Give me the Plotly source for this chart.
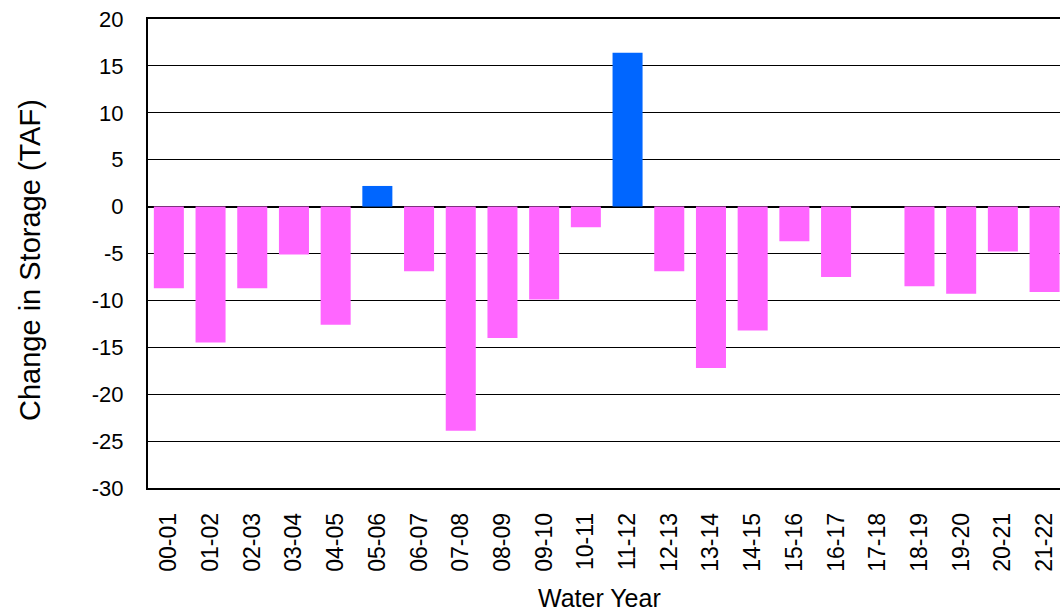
import plotly.graph_objects as go

years = ["00-01","01-02","02-03","03-04","04-05","05-06","06-07","07-08","08-09","09-10",
         "10-11","11-12","12-13","13-14","14-15","15-16","16-17","17-18","18-19","19-20",
         "20-21","21-22"]
change = [-8.7, -14.5, -8.7, -5.1, -12.6, 2.2, -6.9, -23.9, -14.0, -9.9,
          -2.2, 16.4, -6.9, -17.2, -13.2, -3.7, -7.5, 0.0, -8.5, -9.3,
          -4.8, -9.1]
ytickvals = [20, 15, 10, 5, 0, -5, -10, -15, -20, -25, -30]
yticktext = ["20", "15", "10", "5", "0", "-5", "-10", "-15", "-20", "-25", "-30"]
colors = ["#0066FF" if v > 0 else "#FF66FF" for v in change]

fig = go.Figure(go.Bar(x=list(range(len(years))), y=change, marker_color=colors,
                       marker_line_width=0))

L, R, T, B = 148, 0, 19, 127
W, H = 1060, 615
pw, ph = W - L - R, H - T - B

fig.update_layout(
    width=W, height=H,
    margin=dict(l=L, r=R, t=T, b=B, autoexpand=False),
    plot_bgcolor="white", paper_bgcolor="white",
    bargap=0.28, showlegend=False,
    font=dict(family="Liberation Sans, Arial", color="black"),
    annotations=[
        dict(text="Change in Storage (TAF)", textangle=-90, showarrow=False,
             xref="paper", yref="paper", x=(30 - L) / pw, y=(H - B - 260) / ph,
             xanchor="center", yanchor="middle", font=dict(size=29)),
        dict(text="Water Year", showarrow=False,
             xref="paper", yref="paper", x=(599 - L) / pw, y=(H - B - 598) / ph,
             xanchor="center", yanchor="middle", font=dict(size=25)),
    ],
)
fig.update_xaxes(
    tickmode="array", tickvals=list(range(len(years))), ticktext=years,
    range=[-0.5, 21.37], tickangle=-90, tickfont=dict(size=23),
    showgrid=False, zeroline=False, showline=True, linecolor="black", linewidth=1.5,
    mirror=True, ticks="", ticklabelstandoff=14, automargin=False,
)
fig.update_yaxes(
    range=[-30, 20], tickmode="array", tickvals=ytickvals, ticktext=yticktext,
    tickfont=dict(size=22),
    showgrid=True, gridcolor="black", gridwidth=1,
    zeroline=True, zerolinecolor="black", zerolinewidth=1.5,
    showline=True, linecolor="black", linewidth=2, mirror=False,
    ticks="", ticklabelstandoff=18, automargin=False,
)
fig.write_html(
    "out.html",
    config={"displayModeBar": False},
    post_script="document.body.style.margin='0';document.body.style.overflow='hidden';",
)
